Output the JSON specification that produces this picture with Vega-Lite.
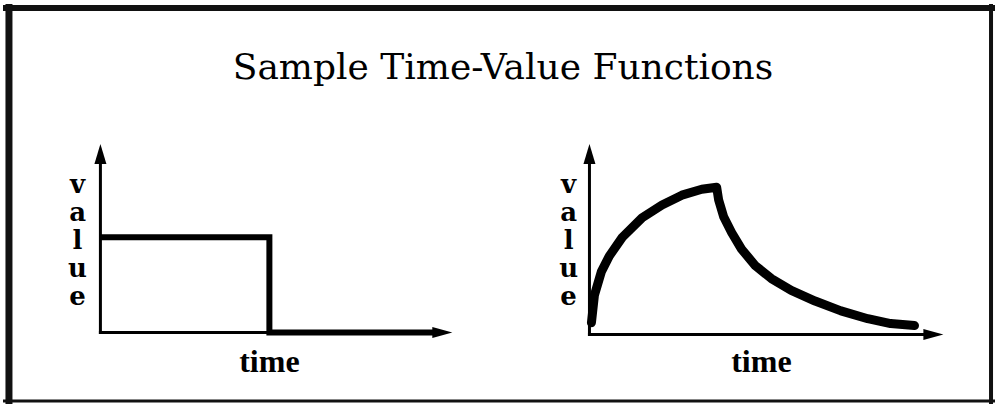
{
  "$schema": "https://vega.github.io/schema/vega-lite/v6.json",
  "width": 998,
  "height": 408,
  "autosize": {"type": "fit", "contains": "padding"},
  "padding": 0,
  "background": "white",
  "config": {"view": {"stroke": null}},
  "datasets": {
    "axes": [
      {"s": "Ly", "o": 0, "x": 98, "y": 335}, {"s": "Ly", "o": 1, "x": 98, "y": 150},
      {"s": "Lx", "o": 0, "x": 98, "y": 335}, {"s": "Lx", "o": 1, "x": 268, "y": 335},
      {"s": "Ry", "o": 0, "x": 590, "y": 337}, {"s": "Ry", "o": 1, "x": 590, "y": 150},
      {"s": "Rx", "o": 0, "x": 590, "y": 337}, {"s": "Rx", "o": 1, "x": 932, "y": 337}
    ],
    "step": [
      {"o": 0, "x": 98, "y": 238}, {"o": 1, "x": 268, "y": 238},
      {"o": 2, "x": 268, "y": 335}, {"o": 3, "x": 436, "y": 335}
    ],
    "curve": [
      {"o": 0, "x": 592, "y": 325}, {"o": 1, "x": 595, "y": 297}, {"o": 2, "x": 602, "y": 273},
      {"o": 3, "x": 610, "y": 257}, {"o": 4, "x": 623, "y": 238}, {"o": 5, "x": 643, "y": 218},
      {"o": 6, "x": 663, "y": 205}, {"o": 7, "x": 683, "y": 195}, {"o": 8, "x": 703, "y": 189},
      {"o": 9, "x": 718, "y": 187}, {"o": 10, "x": 720, "y": 200}, {"o": 11, "x": 725, "y": 217},
      {"o": 12, "x": 733, "y": 233}, {"o": 13, "x": 743, "y": 250}, {"o": 14, "x": 757, "y": 267},
      {"o": 15, "x": 773, "y": 280}, {"o": 16, "x": 793, "y": 292}, {"o": 17, "x": 817, "y": 303},
      {"o": 18, "x": 843, "y": 313}, {"o": 19, "x": 870, "y": 321}, {"o": 20, "x": 893, "y": 326},
      {"o": 21, "x": 917, "y": 328}
    ],
    "arrowUp": [{"x": 98, "y": 153}, {"x": 590, "y": 153}],
    "arrowRight": [{"x": 442, "y": 335}, {"x": 936, "y": 337}],
    "letters": [
      {"t": "v\na\nl\nu\ne", "x": 75, "y": 193},
      {"t": "v\na\nl\nu\ne", "x": 569, "y": 193}
    ],
    "timeLabels": [{"t": "time", "x": 268, "y": 375}, {"t": "time", "x": 763, "y": 375}],
    "title": [{"t": "Sample Time-Value Functions", "x": 503, "y": 77}],
    "border": [
      {"x": 0, "x2": 998, "y": 4, "y2": 4, "w": 6},
      {"x": 6, "x2": 6, "y": 0, "y2": 408, "w": 7},
      {"x": 994, "x2": 994, "y": 0, "y2": 408, "w": 4},
      {"x": 0, "x2": 998, "y": 405, "y2": 405, "w": 3}
    ]
  },
  "encoding": {
    "x": {"field": "x", "type": "quantitative", "scale": {"domain": [0, 998], "nice": false, "zero": false}, "axis": null},
    "y": {"field": "y", "type": "quantitative", "scale": {"domain": [0, 408], "nice": false, "zero": false, "reverse": true}, "axis": null}
  },
  "layer": [
    {
      "data": {"name": "border"},
      "mark": {"type": "rule", "color": "#111"},
      "encoding": {
        "x2": {"field": "x2"},
        "y2": {"field": "y2"},
        "strokeWidth": {"field": "w", "type": "quantitative", "scale": null}
      }
    },
    {
      "data": {"name": "axes"},
      "mark": {"type": "line", "color": "black", "strokeWidth": 3, "strokeCap": "square"},
      "encoding": {
        "detail": {"field": "s"},
        "order": {"field": "o"}
      }
    },
    {
      "data": {"name": "step"},
      "mark": {"type": "line", "color": "black", "strokeWidth": 6, "strokeJoin": "miter", "strokeCap": "butt"},
      "encoding": {"order": {"field": "o"}}
    },
    {
      "data": {"name": "curve"},
      "mark": {"type": "line", "color": "black", "strokeWidth": 9, "strokeJoin": "round", "strokeCap": "round"},
      "encoding": {"order": {"field": "o"}}
    },
    {
      "data": {"name": "arrowUp"},
      "mark": {"type": "point", "shape": "M-0.6,1L0,-1L0.6,1Z", "size": 400, "filled": true, "color": "black", "opacity": 1}
    },
    {
      "data": {"name": "arrowRight"},
      "mark": {"type": "point", "shape": "M-1,-0.55L1,0L-1,0.55Z", "size": 400, "filled": true, "color": "black", "opacity": 1}
    },
    {
      "data": {"name": "letters"},
      "mark": {"type": "text", "font": "DejaVu Serif", "fontWeight": "bold", "fontSize": 26, "lineHeight": 28, "lineBreak": "\n", "align": "center", "baseline": "alphabetic", "color": "black"},
      "encoding": {"text": {"field": "t"}}
    },
    {
      "data": {"name": "timeLabels"},
      "mark": {"type": "text", "font": "Liberation Serif", "fontWeight": "bold", "fontSize": 32, "align": "center", "baseline": "alphabetic", "color": "black"},
      "encoding": {"text": {"field": "t"}}
    },
    {
      "data": {"name": "title"},
      "mark": {"type": "text", "font": "DejaVu Serif", "fontSize": 36, "align": "center", "baseline": "alphabetic", "color": "black"},
      "encoding": {"text": {"field": "t"}}
    }
  ]
}
